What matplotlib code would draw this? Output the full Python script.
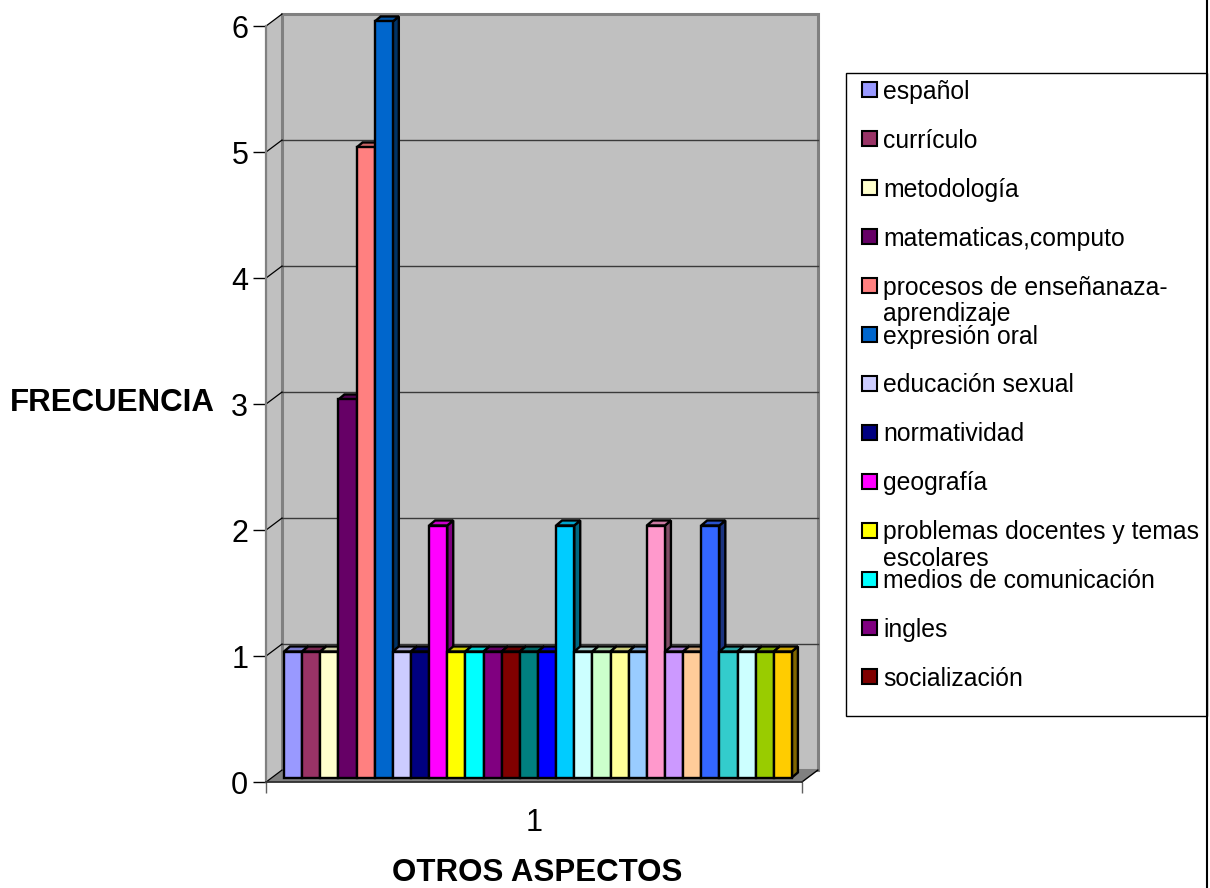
import textwrap
import numpy as np
import matplotlib
matplotlib.use("Agg")
import matplotlib.pyplot as plt
from matplotlib.patches import Polygon, Rectangle
from matplotlib.lines import Line2D
from matplotlib.colors import to_rgb

plt.rcParams["font.family"] = ["Liberation Sans", "DejaVu Sans"]

# --- data -------------------------------------------------------------------
aspectos = ["español", "currículo", "metodología", "matematicas,computo",
            "procesos de enseñanaza-aprendizaje", "expresión oral",
            "educación sexual", "normatividad", "geografía",
            "problemas docentes y temas escolares", "medios de comunicación",
            "ingles", "socialización"]
frecuencia = [1, 1, 1, 3, 5, 6, 1, 1, 2, 1, 1, 1, 1, 1,
              1, 2, 1, 1, 1, 1, 2, 1, 1, 2, 1, 1, 1, 1]
colores = ["#9999FF", "#993366", "#FFFFCC", "#660066", "#FF8080", "#0066CC",
           "#CCCCFF", "#000080", "#FF00FF", "#FFFF00", "#00FFFF", "#800080",
           "#800000", "#008080", "#0000FF", "#00CCFF", "#CCFFFF", "#CCFFCC",
           "#FFFF99", "#99CCFF", "#FF99CC", "#CC99FF", "#FFCC99", "#3366FF",
           "#33CCCC", "#CCFFFF", "#99CC00", "#FFCC00"]
y_ticks = [0, 1, 2, 3, 4, 5, 6]
x_label = "1"

# --- layout (pixels of a 1210x888 canvas) -------------------------------------
W, H = 1210, 888
BAR_PX, UNIT_PX = 18.14, 126.0      # one bar width / one frequency unit
X0_PX, Y0_PX = 284, 777.5           # left edge of first bar / bar baseline


def shade(c, f):
    r, g, b = to_rgb(c)
    return (r * f, g * f, b * f)


fig = plt.figure(figsize=(W / 100, H / 100), dpi=100)
ax = fig.add_axes([250 / W, 1 - 800 / H, 580 / W, 795 / H])
ax.set_xlim((250 - X0_PX) / BAR_PX, (830 - X0_PX) / BAR_PX)
ax.set_ylim((Y0_PX - 800) / UNIT_PX, (Y0_PX - 5) / UNIT_PX)
ax.patch.set_visible(False)

n = len(frecuencia)
fx0, fx1, fy0 = -0.99, n + 0.55, -0.036     # front frame
wdx, wdy = 0.88, 0.095                      # wall depth offset
bdx, bdy = 0.33, 0.04                       # bar depth offset
ymax = max(y_ticks)

# walls and floor
ax.add_patch(Polygon([(fx0, fy0), (fx0 + wdx, fy0 + wdy),
                      (fx0 + wdx, fy0 + wdy + ymax), (fx0, fy0 + ymax)],
                     fc="#C0C0C0", ec="none", zorder=0))
ax.add_patch(Rectangle((fx0 + wdx, fy0 + wdy), fx1 - fx0, ymax,
                       fc="#C0C0C0", ec="#808080", lw=2.2, zorder=0))
ax.add_patch(Polygon([(fx0, fy0), (fx1, fy0), (fx1 + wdx, fy0 + wdy),
                      (fx0 + wdx, fy0 + wdy)],
                     fc="#808080", ec="none", zorder=0.5))
for k in y_ticks[1:-1]:
    ax.plot([fx0 + wdx, fx1 + wdx], [fy0 + wdy + k] * 2,
            color="#3a3a3a", lw=1.0, zorder=0.8)
for k in y_ticks:
    ax.plot([fx0, fx0 + wdx], [fy0 + k, fy0 + wdy + k],
            color="black", lw=0.9, zorder=0.8)
ax.plot([fx1, fx1 + wdx], [fy0, fy0 + wdy], color="black", lw=1.0, zorder=0.8)

# bars: top and side faces behind, fronts on top
for i, (h, c) in enumerate(zip(frecuencia, colores)):
    ax.add_patch(Polygon([(i + 1, 0), (i + 1 + bdx, bdy),
                          (i + 1 + bdx, h + bdy), (i + 1, h)],
                         fc=shade(c, 0.5), ec="black", lw=1.7, zorder=2))
    ax.add_patch(Polygon([(i, h), (i + 1, h), (i + 1 + bdx, h + bdy),
                          (i + bdx, h + bdy)],
                         fc=shade(c, 0.8), ec="black", lw=1.7, zorder=2))
ax.bar(np.arange(n), frecuencia, width=1, align="edge", color=colores,
       edgecolor="black", linewidth=1.7, zorder=3)

# axes
for s in ("top", "right"):
    ax.spines[s].set_visible(False)
ax.spines["left"].set_position(("data", fx0))
ax.spines["left"].set_bounds(fy0, fy0 + ymax)
ax.spines["left"].set_color("#808080")
ax.spines["left"].set_linewidth(1.6)
ax.spines["bottom"].set_position(("data", fy0))
ax.spines["bottom"].set_bounds(fx0, fx1)
ax.spines["bottom"].set_color("#303030")
ax.spines["bottom"].set_linewidth(1.3)

ax.set_yticks([fy0 + k for k in y_ticks], labels=[str(k) for k in y_ticks])
ax.tick_params(axis="y", length=9.4, width=1, labelsize=22, pad=3.4)
ax.set_xticks([(fx0 + fx1) / 2], labels=[x_label])
ax.set_xticks([fx0, fx1], minor=True)
ax.tick_params(axis="x", which="major", length=0, labelsize=22, pad=19)
ax.tick_params(axis="x", which="minor", length=8, width=1, color="#606060")

ax.set_ylabel("FRECUENCIA", rotation=0, fontsize=22.5, fontweight="bold",
              ha="right", va="center")
ax.yaxis.set_label_coords((215 - 250) / 580, (800 - 403) / 795)
ax.set_xlabel("OTROS ASPECTOS", fontsize=22.5, fontweight="bold", va="center")
ax.xaxis.set_label_coords((537 - 250) / 580, (800 - 873) / 795)

# legend box (first entries only)
fig.add_artist(Rectangle((846 / W, 1 - 716 / H), (1207 - 846) / W, (716 - 73) / H,
                         transform=fig.transFigure, fill=False, ec="black", lw=1))
for i, (name, c) in enumerate(zip(aspectos, colores)):
    yc = 90 + 48.9 * i
    fig.add_artist(Rectangle((862 / W, 1 - (yc + 7.5) / H), 15 / W, 15 / H,
                             transform=fig.transFigure, fc=c, ec="black", lw=1.5))
    fig.text(883 / W, 1 - (yc - 10) / H, textwrap.fill(name, 26), ha="left",
             va="top", fontsize=17.8, linespacing=1.15)

fig.add_artist(Line2D([1207 / W] * 2, [0, 1], color="black", lw=1.5,
                      transform=fig.transFigure))

fig.savefig("out.png", dpi=100)
